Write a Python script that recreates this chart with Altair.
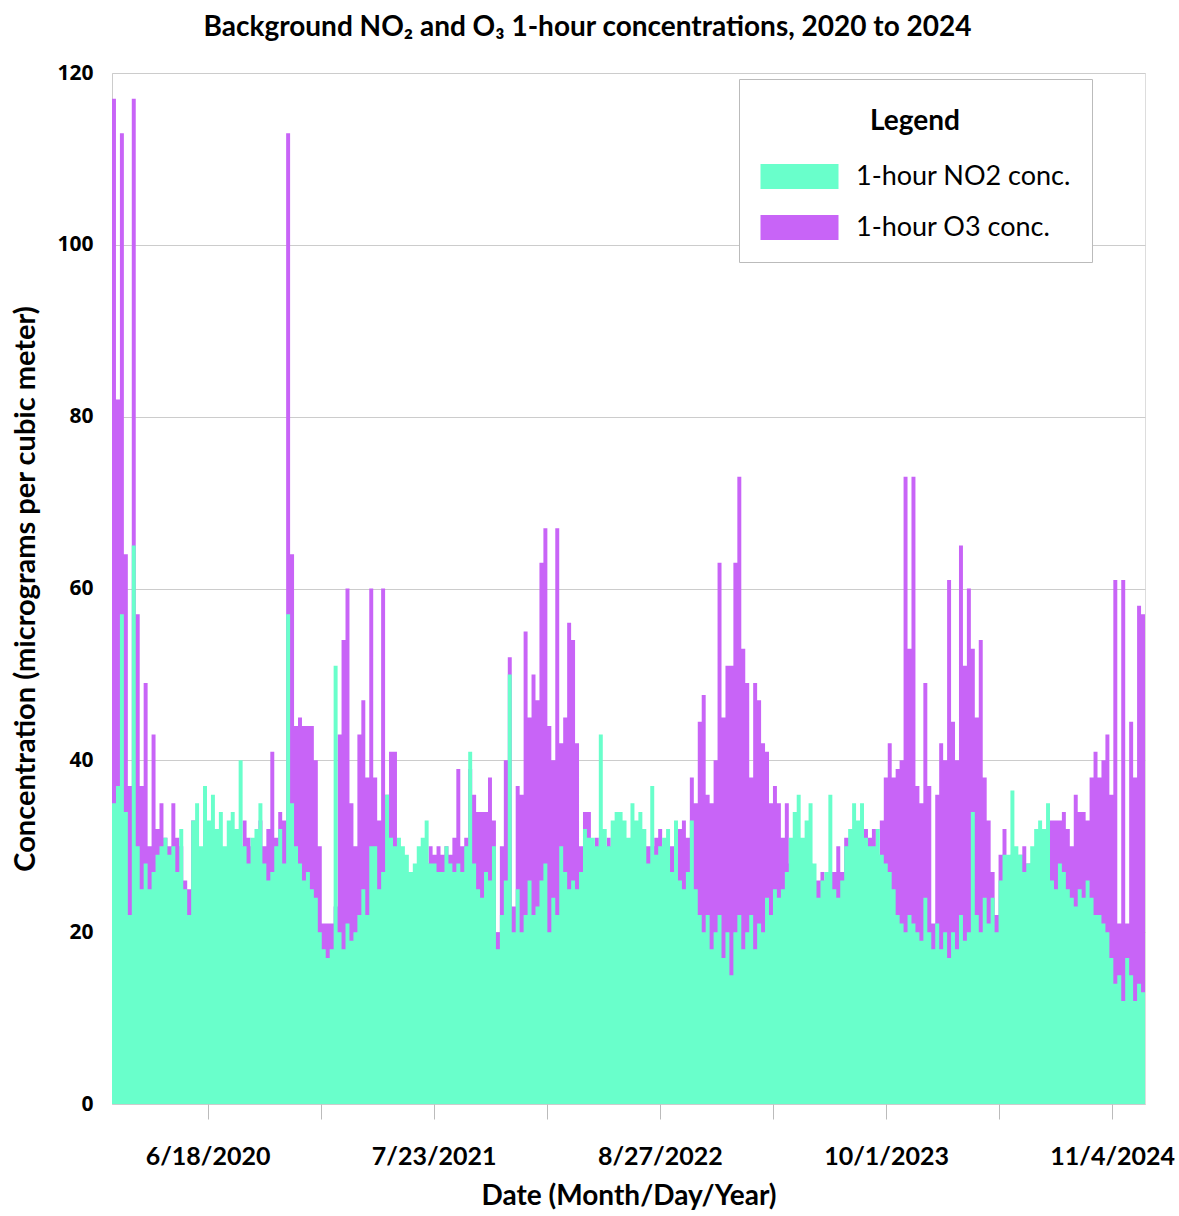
import altair as alt
import pandas as pd

# ---------------- data (one value per 7-day step) ----
START = "2020-01-01"
STEP = "7D"

no2 = [
    35, 37, 57, 34, 22, 65, 30, 25, 28, 25,
    27, 29, 30, 31, 29, 30, 27, 32, 25, 22,
    33, 35, 30, 37, 33, 36, 32, 34, 30, 33,
    34, 32, 40, 30, 28, 31, 32, 35, 28, 26,
    27, 30, 32, 28, 57, 35, 30, 28, 26, 27,
    25, 24, 20, 18, 17, 18, 51, 20, 18, 21,
    19, 20, 22, 25, 22, 30, 30, 25, 27, 36,
    31, 30, 31, 30, 29, 27, 28, 30, 31, 33,
    28, 28, 27, 27, 30, 28, 27, 28, 27, 30,
    41, 28, 25, 24, 27, 26, 30, 18, 22, 26,
    50, 20, 25, 20, 22, 26, 22, 23, 26, 28,
    20, 24, 22, 30, 27, 25, 26, 25, 27, 32,
    31, 31, 30, 43, 32, 30, 33, 34, 34, 33,
    31, 35, 33, 34, 32, 28, 37, 29, 30, 31,
    32, 27, 33, 26, 25, 27, 33, 25, 22, 20,
    22, 18, 20, 22, 17, 20, 15, 20, 22, 18,
    20, 22, 18, 21, 20, 24, 22, 25, 24, 25,
    27, 31, 34, 36, 31, 33, 35, 28, 24, 26,
    27, 36, 25, 24, 26, 30, 32, 35, 33, 35,
    31, 30, 30, 32, 29, 28, 27, 25, 22, 21,
    20, 22, 21, 20, 19, 24, 20, 18, 21, 18,
    20, 17, 20, 18, 22, 19, 20, 34, 22, 20,
    24, 21, 24, 20, 26, 29, 29, 36.5, 30, 29,
    27, 28, 30, 32, 33, 32, 35, 26, 25, 28,
    27, 25, 24, 23, 25, 24, 26, 24, 22, 22,
    21, 20, 17, 14, 15, 12, 17, 15, 12, 14,
    13, 10,
]

o3 = [
    117, 82, 113, 64, 37, 117, 57, 37, 49, 30,
    43, 32, 35, 31, 30, 35, 31, 30, 26, 25,
    33, 30, 28, 32, 30, 28, 27, 28, 27, 28,
    29, 30, 30, 33, 31, 30, 29, 33, 30, 32,
    41, 31, 34, 33, 113, 64, 44, 45, 44, 44,
    44, 40, 30, 21, 21, 21, 23, 43, 54, 60,
    35, 30, 43, 47, 38, 60, 38, 33, 60, 36,
    41, 41, 28, 27, 27, 25, 26, 27, 28, 28,
    30, 29, 30, 29, 30, 29, 31, 39, 30, 31,
    39, 36, 34, 34, 34, 38, 33, 20, 30, 40,
    52, 23, 37, 36, 55, 45, 50, 47, 63, 67,
    44, 40, 67, 42, 45, 56, 54, 42, 30, 34,
    34, 30, 31, 30, 30, 31, 30, 30, 30, 28,
    30, 30, 31, 32, 30, 30, 30, 31, 32, 30,
    30, 30, 29, 32, 33, 31, 38, 35, 44.5, 47.6,
    36, 35, 40, 63, 45, 51, 51, 63, 73, 53,
    49, 38, 49, 47, 42, 41, 35, 37, 35, 31,
    35, 28, 28, 30, 28, 28, 28, 26, 26, 27,
    26, 27, 27, 30, 27, 31, 31, 32, 32, 32,
    32, 31, 32, 29, 33, 38, 42, 38, 39, 40,
    73, 53, 73, 37, 35, 49, 37, 21, 36, 42,
    40, 61, 44.5, 40, 65, 51, 60, 53, 45, 54,
    38, 33, 27, 22, 29, 32, 28, 29, 28, 29,
    30, 28, 28, 28, 30, 28, 27, 33, 33, 33,
    34, 32, 30, 36, 34, 34, 33, 38, 41, 38,
    40, 43, 36, 61, 21, 61, 21, 44.5, 38, 58,
    57, 40,
]

NO2_LABEL = "1-hour NO2 conc."
O3_LABEL = "1-hour O3 conc."
SERIES = [NO2_LABEL, O3_LABEL]
COLORS = ["#69ffcb", "#c864f7"]

# x-axis ticks (every 200 days), labels on every other tick
tick_dates = ["2020-06-18", "2021-01-04", "2021-07-23", "2022-02-08", "2022-08-27",
              "2023-03-15", "2023-10-01", "2024-04-18", "2024-11-04"]
labeled_ticks = ["6/18/2020", "7/23/2021", "8/27/2022", "10/1/2023", "11/4/2024"]
y_ticks = [0, 20, 40, 60, 80, 100, 120]

# ---------------- build table ----------------
n = len(no2)
dates = pd.date_range(START, periods=n, freq=STEP).strftime("%Y-%m-%d").tolist()
df = pd.DataFrame({
    "date": dates * 2,
    "series": [NO2_LABEL] * n + [O3_LABEL] * n,
    "value": no2 + o3,
})

COND = "Lato, Liberation Sans, sans-serif"
WIDE = "Open Sans, DejaVu Sans, sans-serif"


def dt(s):
    y, m, d = (int(p) for p in s.split("-"))
    return alt.DateTime(year=y, month=m, date=d, utc=True)


labels_js = "[" + ",".join("'%s'" % s for s in labeled_ticks) + "]"
label_expr = ("indexof(%s, utcFormat(datum.value, '%%-m/%%-d/%%Y')) >= 0 ? "
              "utcFormat(datum.value, '%%-m/%%-d/%%Y') : ''") % labels_js

x = alt.X(
    "date:T",
    scale=alt.Scale(type="utc", domain=[dt("2020-01-01"), dt("2025-01-01")], nice=False),
    axis=alt.Axis(
        title="Date (Month/Day/Year)",
        values=[dt(s) for s in tick_dates],
        labelExpr=label_expr,
        grid=False, domain=False,
        ticks=True, tickSize=15, tickColor="#bbbbbb", tickWidth=1,
        labelFont=COND, labelFontSize=25, labelFontWeight="bold", labelColor="black",
        labelBaseline="middle", labelPadding=37, labelFlush=False, labelOverlap=False,
        titleFont=COND, titleFontSize=28, titleFontWeight="bold", titleColor="black",
        titleBaseline="middle", titleY=92,
    ),
)

y = alt.Y(
    "value:Q",
    stack=None,
    scale=alt.Scale(domain=[0, 120], nice=False),
    axis=alt.Axis(
        title="Concentration (micrograms per cubic meter)",
        values=y_ticks,
        grid=True, gridColor="#cccccc", gridWidth=1.2,
        domain=True, domainColor="#cccccc",
        ticks=False, labelPadding=19,
        labelFont=WIDE, labelFontSize=21, labelFontWeight="bold", labelColor="black",
        titleFont=COND, titleFontSize=29, titleFontWeight="bold", titleColor="black",
        titleBaseline="middle", titleX=-87,
    ),
)

color = alt.Color(
    "series:N",
    scale=alt.Scale(domain=SERIES, range=COLORS),
    legend=alt.Legend(
        title=["", "Legend"], titleLineHeight=8,
        orient="none", legendX=627, legendY=6,
        direction="vertical",
        symbolType="M-3,-0.96H3V0.96H-3Z", symbolSize=676, symbolOffset=26,
        symbolStrokeWidth=0, symbolOpacity=1,
        labelOffset=43, labelLimit=400, rowPadding=23, padding=21,
        titleAnchor="middle", titleFont=COND, titleFontSize=28, titleFontWeight="bold",
        titleColor="black", titlePadding=27,
        labelFont=COND, labelFontSize=27, labelColor="black",
        strokeColor="#bbbbbb", fillColor="white",
    ),
)

base = alt.Chart(df).encode(x=x, y=y, color=color)
o3_layer = base.transform_filter(alt.datum.series == O3_LABEL).mark_area(
    interpolate="step-after", opacity=1)
no2_layer = base.transform_filter(alt.datum.series == NO2_LABEL).mark_area(
    interpolate="step-after", opacity=1)

chart = alt.layer(o3_layer, no2_layer).properties(
    width=1033, height=1031,
    autosize=alt.AutoSizeParams(type="none"),
    padding={"left": 112, "top": 73, "right": 34, "bottom": 112},
    title=alt.TitleParams(
        text="Background NO₂ and O₃ 1-hour concentrations, 2020 to 2024",
        font=COND, fontSize=28, fontWeight="bold", color="black",
        anchor="middle", dx=-41, baseline="middle", offset=6,
    ),
).configure_view(stroke=None).configure(background="white")

chart.save("out.html", embed_options={"renderer": "svg", "actions": False})
